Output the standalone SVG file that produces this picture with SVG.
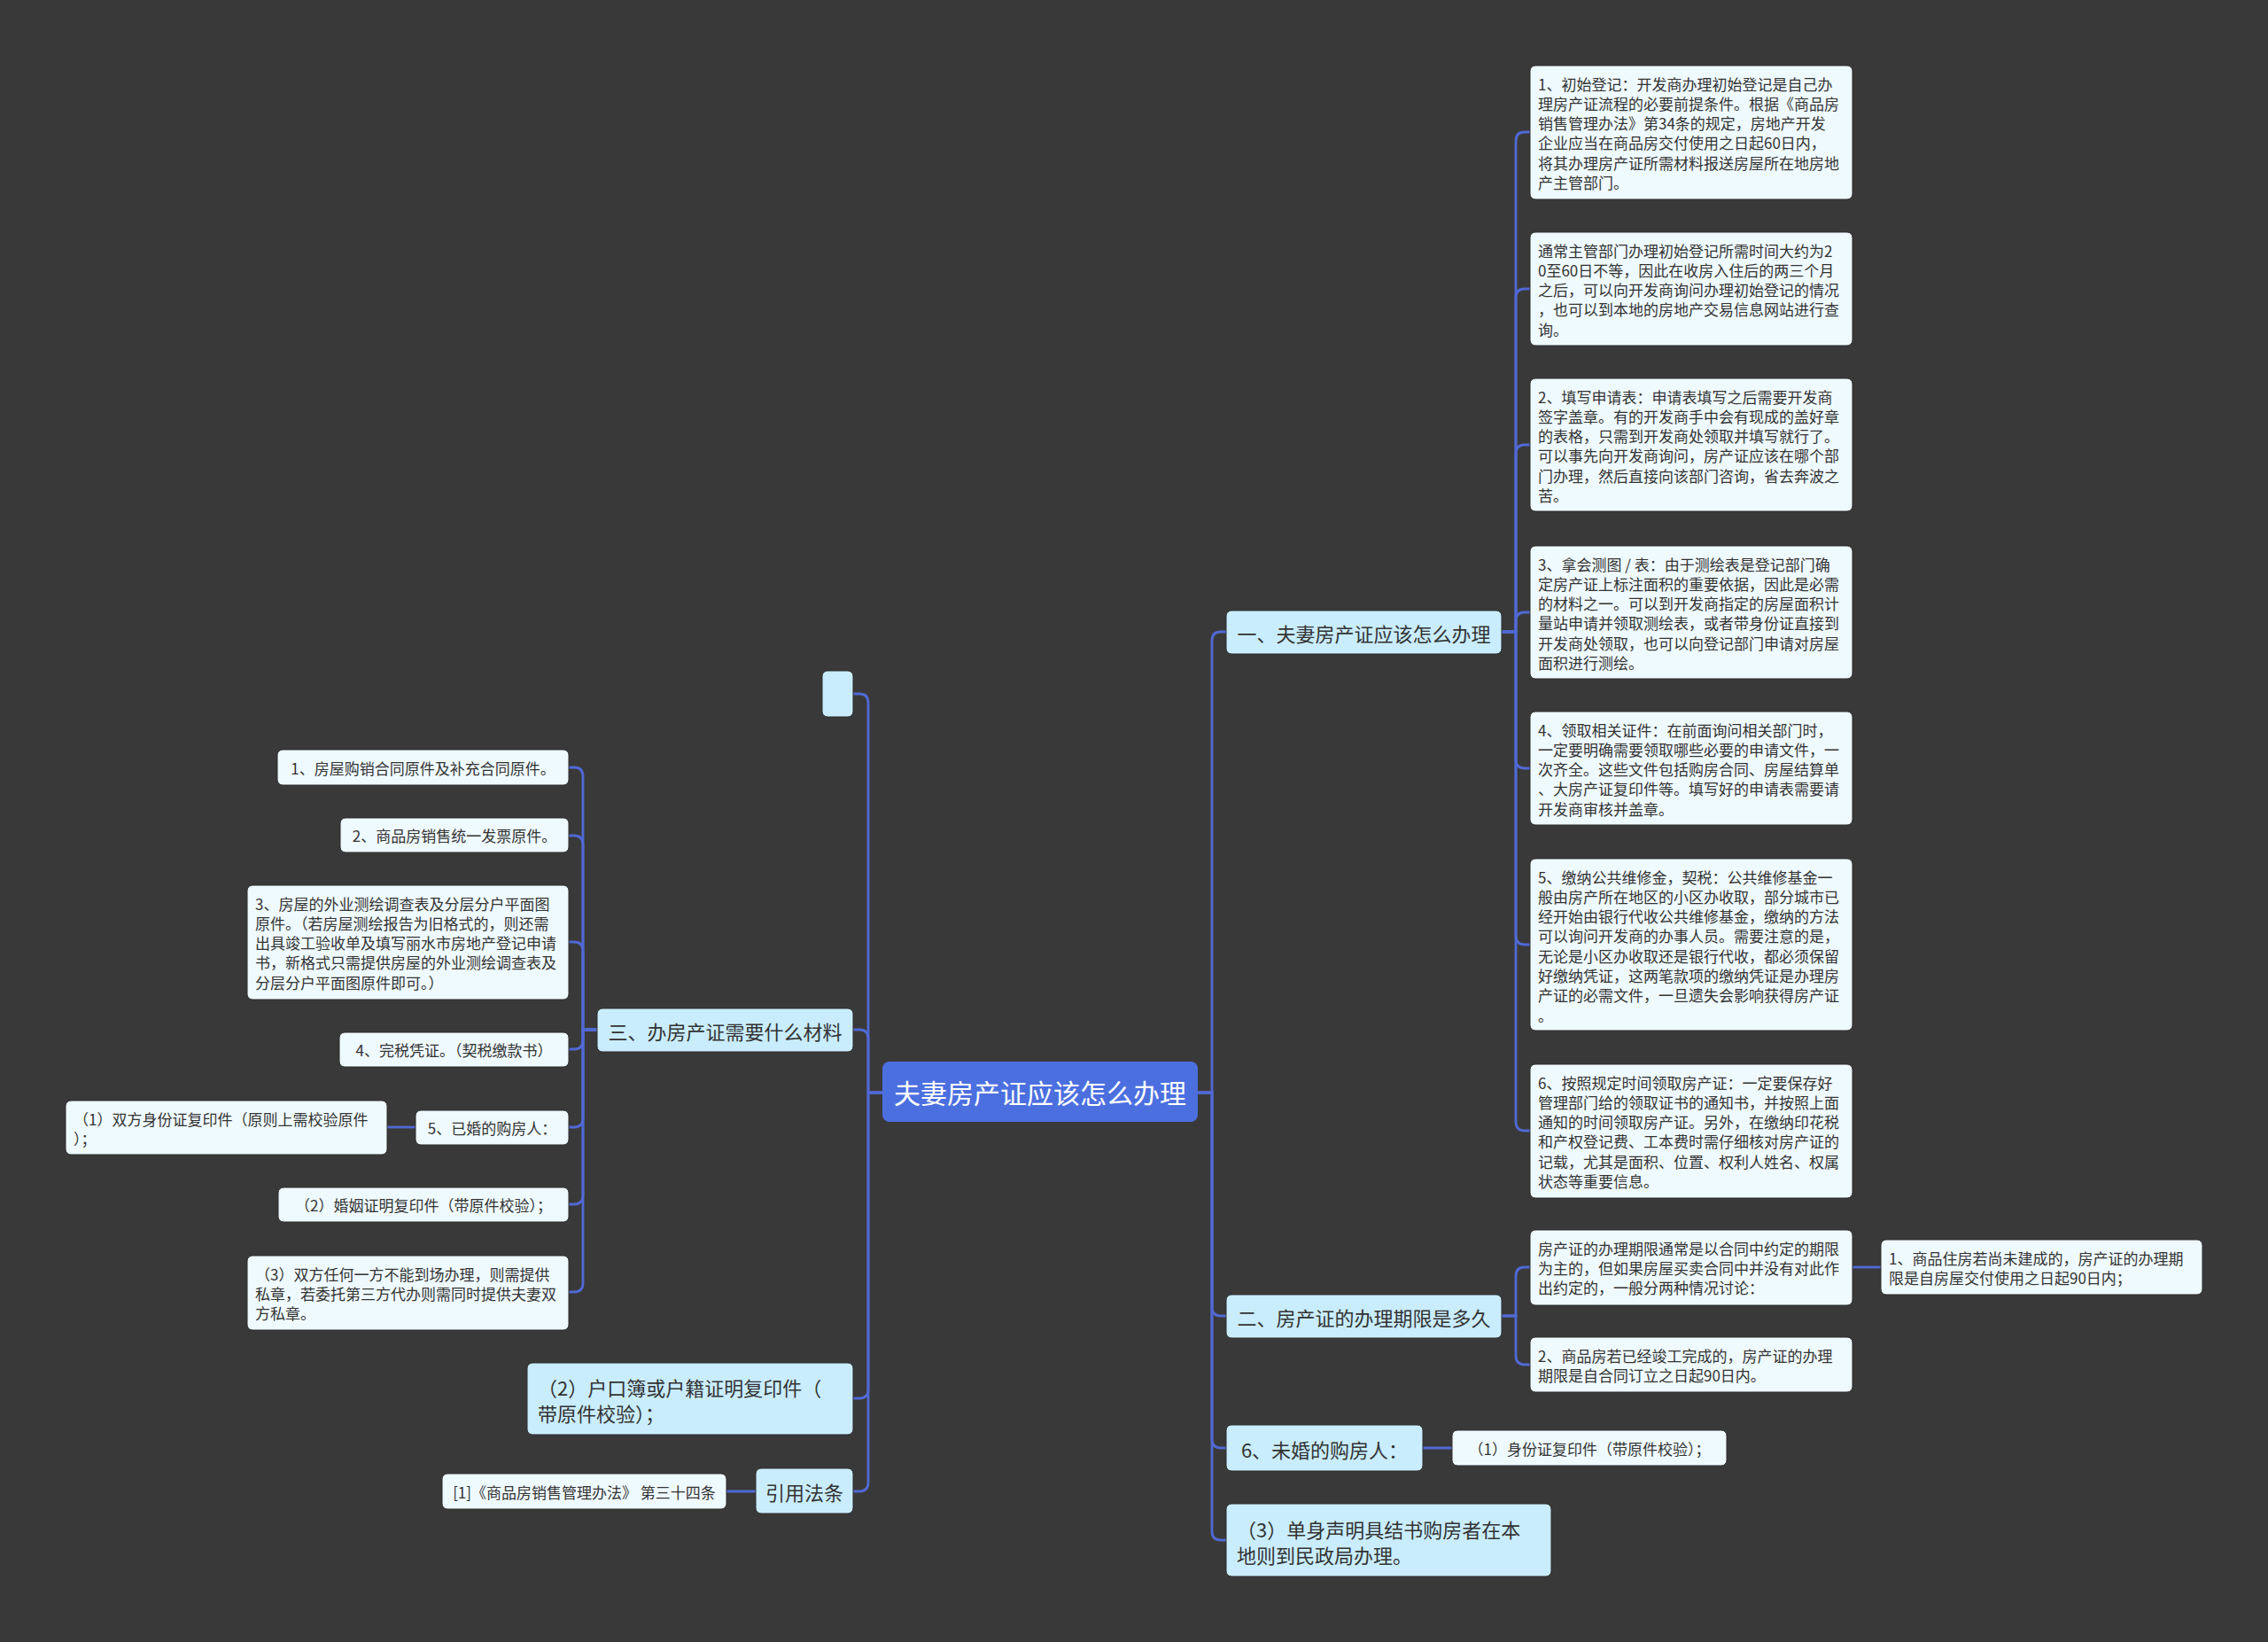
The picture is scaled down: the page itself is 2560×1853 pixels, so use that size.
<svg xmlns="http://www.w3.org/2000/svg" width="2560" height="1853" viewBox="0 0 2560 1853">
<style>
text{font-family:"Noto Sans CJK SC","Noto Sans",sans-serif;dominant-baseline:central;fill:#333}
.root rect{fill:#4c6fe0}
.root text{fill:#fff;font-size:30px;text-anchor:middle}
.l1 rect{fill:#c9edfd;stroke:#2c2c2c;stroke-width:1}
.l1 text{font-size:22px}
.leaf rect{fill:#effafe;stroke:#2c2c2c;stroke-width:1}
.leaf text{font-size:17px}
.c{text-anchor:middle}
#links path{fill:none;stroke:#5069d4;stroke-width:2.8}
</style>
<rect width="2560" height="1853" fill="#3a393a"/>
<g id="links">
<path d="M1352 1233H1368V723Q1368 713 1378 713H1384"/>
<path d="M1352 1233H1368V1475Q1368 1485 1378 1485H1384"/>
<path d="M1352 1233H1368V1624Q1368 1634 1378 1634H1384"/>
<path d="M1352 1233H1368V1728Q1368 1738 1378 1738H1384"/>
<path d="M1695 713H1711V159Q1711 149 1721 149H1727"/>
<path d="M1695 713H1711V336Q1711 326 1721 326H1727"/>
<path d="M1695 713H1711V512Q1711 502 1721 502H1727"/>
<path d="M1695 713H1711V701Q1711 691 1721 691H1727"/>
<path d="M1695 713H1711V857Q1711 867 1721 867H1727"/>
<path d="M1695 713H1711V1056Q1711 1066 1721 1066H1727"/>
<path d="M1695 713H1711V1266Q1711 1276 1721 1276H1727"/>
<path d="M1695 1485H1711V1440Q1711 1430 1721 1430H1727"/>
<path d="M1695 1485H1711V1530Q1711 1540 1721 1540H1727"/>
<path d="M2091 1430H2123"/>
<path d="M1606 1634H1639"/>
<path d="M996 1233H980V793Q980 783 970 783H963"/>
<path d="M996 1233H980V1172Q980 1162 970 1162H963"/>
<path d="M996 1233H980V1568Q980 1578 970 1578H963"/>
<path d="M996 1233H980V1673Q980 1683 970 1683H963"/>
<path d="M674 1162H658V876Q658 866 648 866H642"/>
<path d="M674 1162H658V953Q658 943 648 943H642"/>
<path d="M674 1162H658V1073Q658 1063 648 1063H642"/>
<path d="M674 1162H658V1174Q658 1184 648 1184H642"/>
<path d="M674 1162H658V1262Q658 1272 648 1272H642"/>
<path d="M674 1162H658V1349Q658 1359 648 1359H642"/>
<path d="M674 1162H658V1448Q658 1458 648 1458H642"/>
<path d="M469 1272H437"/>
<path d="M853 1683H820"/>
</g>
<g id="root" class="root"><rect x="996" y="1198" width="356" height="68" rx="8"/><text x="1174" y="1232">夫妻房产证应该怎么办理</text></g>
<g id="n1" class="l1"><rect x="1384" y="689" width="311" height="49" rx="6"/><text x="1539.5" y="714" class="c">一、夫妻房产证应该怎么办理</text></g>
<g id="n2" class="l1"><rect x="1384" y="1461" width="311" height="49" rx="6"/><text x="1539.5" y="1486" class="c">二、房产证的办理期限是多久</text></g>
<g id="n6" class="l1"><rect x="1384" y="1608" width="222" height="52" rx="6"/><text x="1495" y="1635" class="c">6、未婚的购房人：</text></g>
<g id="n3s" class="l1"><rect x="1384" y="1697" width="367" height="82" rx="6"/><text x="1396" y="1725">（3）单身声明具结书购房者在本</text><text x="1396" y="1754">地则到民政局办理。</text></g>
<g id="n3" class="l1"><rect x="674" y="1138" width="289" height="49" rx="6"/><text x="818.5" y="1163" class="c">三、办房产证需要什么材料</text></g>
<g id="nempty" class="l1"><rect x="928" y="757" width="35" height="52" rx="6"/></g>
<g id="nhk" class="l1"><rect x="595" y="1538" width="368" height="81" rx="6"/><text x="607" y="1565">（2）户口簿或户籍证明复印件（</text><text x="607" y="1594">带原件校验）；</text></g>
<g id="nlaw" class="l1"><rect x="853" y="1657" width="110" height="51" rx="6"/><text x="908" y="1683" class="c">引用法条</text></g>
<g id="law1" class="leaf"><rect x="499" y="1663" width="321" height="40" rx="6"/><text x="659.5" y="1683" class="c">[1]《商品房销售管理办法》 第三十四条</text></g>
<g id="b1" class="leaf"><rect x="1727" y="74" width="364" height="151" rx="6"/><text x="1736" y="94">1、初始登记：开发商办理初始登记是自己办</text><text x="1736" y="116.3">理房产证流程的必要前提条件。根据《商品房</text><text x="1736" y="138.6">销售管理办法》第34条的规定，房地产开发</text><text x="1736" y="160.9">企业应当在商品房交付使用之日起60日内，</text><text x="1736" y="183.2">将其办理房产证所需材料报送房屋所在地房地</text><text x="1736" y="205.5">产主管部门。</text></g>
<g id="b2" class="leaf"><rect x="1727" y="262" width="364" height="128" rx="6"/><text x="1736" y="282">通常主管部门办理初始登记所需时间大约为2</text><text x="1736" y="304.3">0至60日不等，因此在收房入住后的两三个月</text><text x="1736" y="326.6">之后，可以向开发商询问办理初始登记的情况</text><text x="1736" y="348.9">，也可以到本地的房地产交易信息网站进行查</text><text x="1736" y="371.2">询。</text></g>
<g id="b3" class="leaf"><rect x="1727" y="427" width="364" height="150" rx="6"/><text x="1736" y="447">2、填写申请表：申请表填写之后需要开发商</text><text x="1736" y="469.3">签字盖章。有的开发商手中会有现成的盖好章</text><text x="1736" y="491.6">的表格，只需到开发商处领取并填写就行了。</text><text x="1736" y="513.9">可以事先向开发商询问，房产证应该在哪个部</text><text x="1736" y="536.2">门办理，然后直接向该部门咨询，省去奔波之</text><text x="1736" y="558.5">苦。</text></g>
<g id="b4" class="leaf"><rect x="1727" y="616" width="364" height="150" rx="6"/><text x="1736" y="636">3、拿会测图 / 表：由于测绘表是登记部门确</text><text x="1736" y="658.3">定房产证上标注面积的重要依据，因此是必需</text><text x="1736" y="680.6">的材料之一。可以到开发商指定的房屋面积计</text><text x="1736" y="702.9">量站申请并领取测绘表，或者带身份证直接到</text><text x="1736" y="725.2">开发商处领取，也可以向登记部门申请对房屋</text><text x="1736" y="747.5">面积进行测绘。</text></g>
<g id="b5" class="leaf"><rect x="1727" y="803" width="364" height="128" rx="6"/><text x="1736" y="823">4、领取相关证件：在前面询问相关部门时，</text><text x="1736" y="845.3">一定要明确需要领取哪些必要的申请文件，一</text><text x="1736" y="867.6">次齐全。这些文件包括购房合同、房屋结算单</text><text x="1736" y="889.9">、大房产证复印件等。填写好的申请表需要请</text><text x="1736" y="912.2">开发商审核并盖章。</text></g>
<g id="b6" class="leaf"><rect x="1727" y="969" width="364" height="194" rx="6"/><text x="1736" y="989">5、缴纳公共维修金，契税：公共维修基金一</text><text x="1736" y="1011.3">般由房产所在地区的小区办收取，部分城市已</text><text x="1736" y="1033.6">经开始由银行代收公共维修基金，缴纳的方法</text><text x="1736" y="1055.9">可以询问开发商的办事人员。需要注意的是，</text><text x="1736" y="1078.2">无论是小区办收取还是银行代收，都必须保留</text><text x="1736" y="1100.5">好缴纳凭证，这两笔款项的缴纳凭证是办理房</text><text x="1736" y="1122.8">产证的必需文件，一旦遗失会影响获得房产证</text><text x="1736" y="1145.1">。</text></g>
<g id="b7" class="leaf"><rect x="1727" y="1201" width="364" height="151" rx="6"/><text x="1736" y="1221">6、按照规定时间领取房产证：一定要保存好</text><text x="1736" y="1243.3">管理部门给的领取证书的通知书，并按照上面</text><text x="1736" y="1265.6">通知的时间领取房产证。另外，在缴纳印花税</text><text x="1736" y="1287.9">和产权登记费、工本费时需仔细核对房产证的</text><text x="1736" y="1310.2">记载，尤其是面积、位置、权利人姓名、权属</text><text x="1736" y="1332.5">状态等重要信息。</text></g>
<g id="b8" class="leaf"><rect x="1727" y="1388" width="364" height="85" rx="6"/><text x="1736" y="1408">房产证的办理期限通常是以合同中约定的期限</text><text x="1736" y="1430.3">为主的，但如果房屋买卖合同中并没有对此作</text><text x="1736" y="1452.6">出约定的，一般分两种情况讨论：</text></g>
<g id="b9" class="leaf"><rect x="1727" y="1509" width="364" height="62" rx="6"/><text x="1736" y="1529">2、商品房若已经竣工完成的，房产证的办理</text><text x="1736" y="1551.3">期限是自合同订立之日起90日内。</text></g>
<g id="b10" class="leaf"><rect x="2123" y="1399" width="363" height="62" rx="6"/><text x="2132" y="1419">1、商品住房若尚未建成的，房产证的办理期</text><text x="2132" y="1441.3">限是自房屋交付使用之日起90日内；</text></g>
<g id="b11" class="leaf"><rect x="1639" y="1614" width="310" height="40" rx="6"/><text x="1794" y="1634" class="c">（1）身份证复印件（带原件校验）；</text></g>
<g id="l1" class="leaf"><rect x="313" y="846" width="329" height="40" rx="6"/><text x="477.5" y="866" class="c">1、房屋购销合同原件及补充合同原件。</text></g>
<g id="l2" class="leaf"><rect x="384" y="923" width="258" height="39" rx="6"/><text x="513" y="942.5" class="c">2、商品房销售统一发票原件。</text></g>
<g id="l3" class="leaf"><rect x="279" y="999" width="363" height="129" rx="6"/><text x="288" y="1019">3、房屋的外业测绘调查表及分层分户平面图</text><text x="288" y="1041.3">原件。（若房屋测绘报告为旧格式的，则还需</text><text x="288" y="1063.6">出具竣工验收单及填写丽水市房地产登记申请</text><text x="288" y="1085.9">书，新格式只需提供房屋的外业测绘调查表及</text><text x="288" y="1108.2">分层分户平面图原件即可。）</text></g>
<g id="l4" class="leaf"><rect x="383" y="1165" width="259" height="39" rx="6"/><text x="512.5" y="1184.5" class="c">4、完税凭证。（契税缴款书）</text></g>
<g id="l5" class="leaf"><rect x="469" y="1253" width="173" height="39" rx="6"/><text x="555.5" y="1272.5" class="c">5、已婚的购房人：</text></g>
<g id="l5a" class="leaf"><rect x="74" y="1242" width="363" height="61" rx="6"/><text x="83" y="1262">（1）双方身份证复印件（原则上需校验原件</text><text x="83" y="1284.3">）；</text></g>
<g id="l6" class="leaf"><rect x="314" y="1340" width="328" height="39" rx="6"/><text x="478" y="1359.5" class="c">（2）婚姻证明复印件（带原件校验）；</text></g>
<g id="l7" class="leaf"><rect x="279" y="1417" width="363" height="84" rx="6"/><text x="288" y="1437">（3）双方任何一方不能到场办理，则需提供</text><text x="288" y="1459.3">私章，若委托第三方代办则需同时提供夫妻双</text><text x="288" y="1481.6">方私章。</text></g>
</svg>
